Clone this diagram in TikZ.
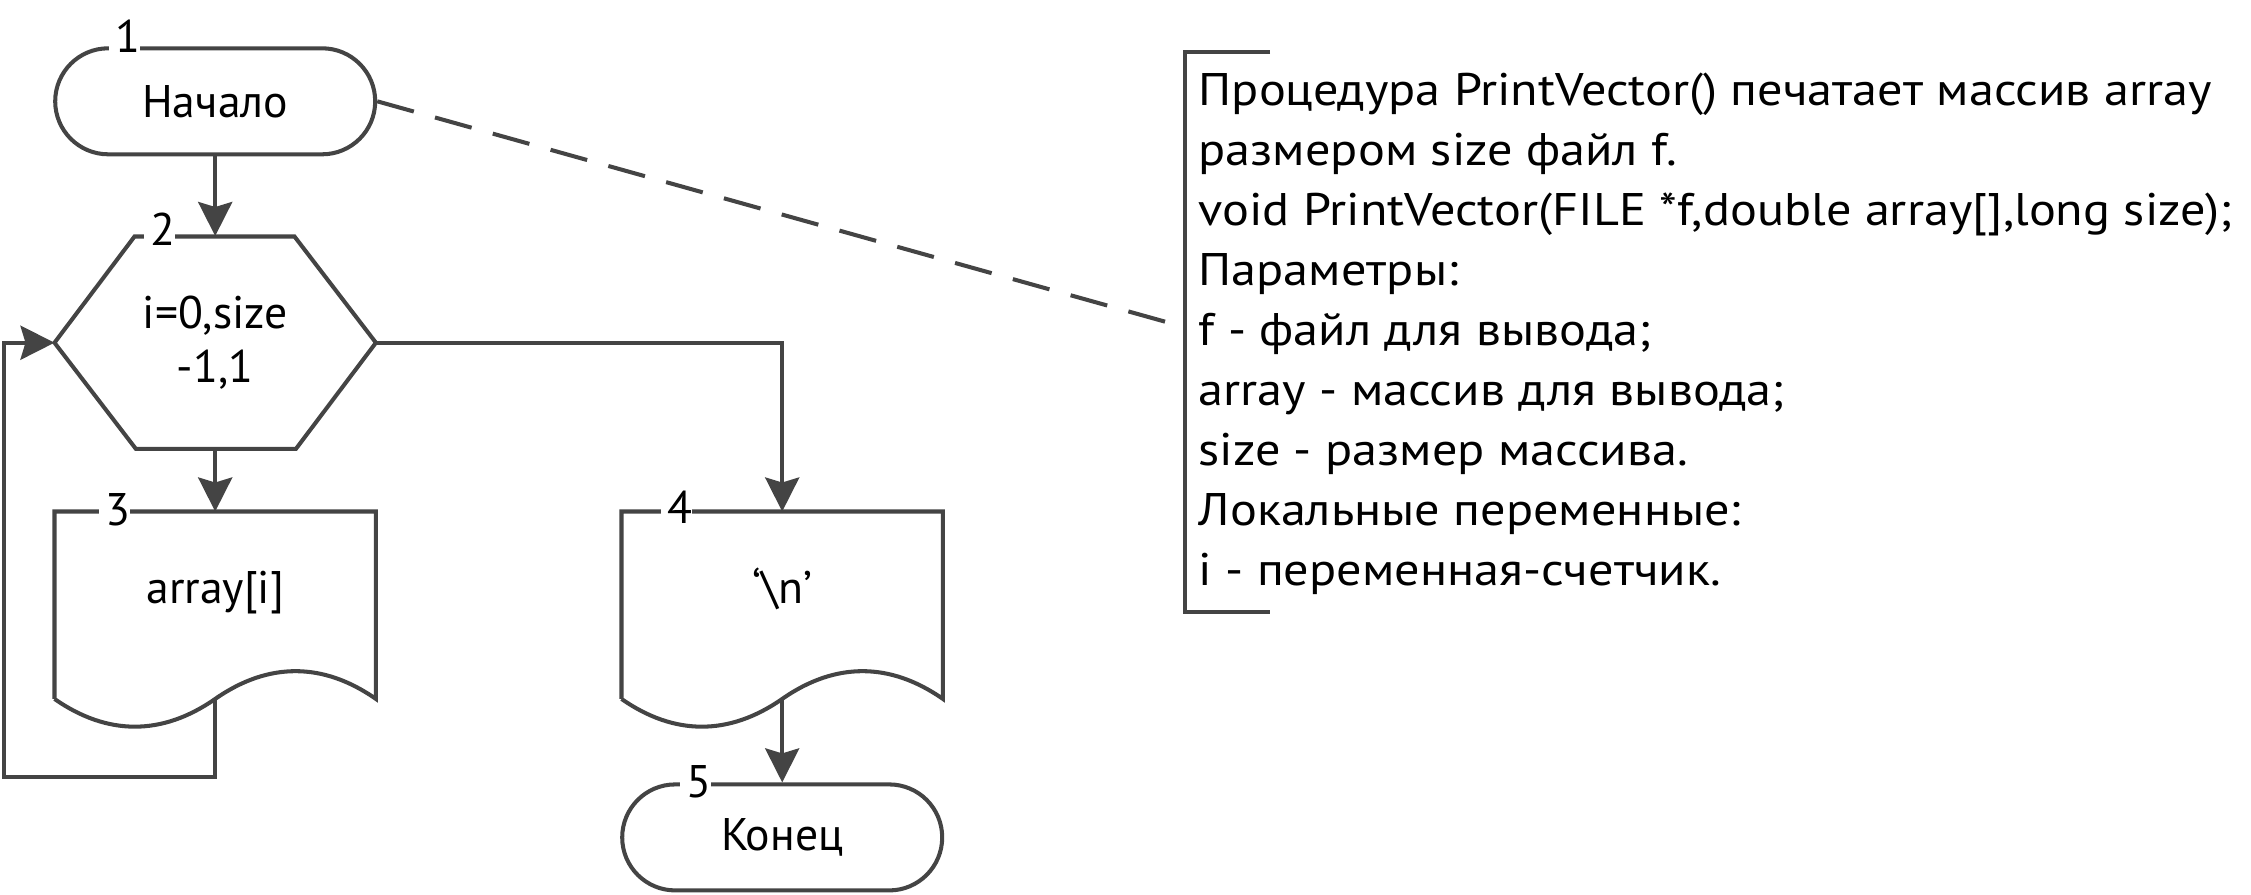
\documentclass[tikz,border=0pt]{standalone}
\usepackage{fontspec}
\setmainfont{PT Sans}
\newfontfamily\notefont[FakeStretch=1.1]{PT Sans}
\usetikzlibrary{arrows.meta,positioning}
\definecolor{linegray}{HTML}{444444}
\tikzset{font={\fontsize{13pt}{15.5pt}\selectfont}}

\begin{document}
\begin{tikzpicture}[
    line/.style={draw=linegray, line width=1.15pt},
    arrow/.style={line, -{Stealth[length=3.4mm, width=3.4mm, inset=0.5mm]}},
    term/.style={line, rectangle, rounded corners=0.53cm, minimum width=3.2cm, minimum height=1.06cm, inner sep=0pt},
    cond/.style={minimum width=3.2cm, minimum height=2.12cm, inner sep=0pt, align=center},
    iobox/.style={minimum width=3.2cm, minimum height=1.86cm, inner sep=0pt, text height=0.3cm, text depth=0.34cm},
    num/.style={fill=white, text width=0.31cm, align=right, inner xsep=0pt, inner ysep=0.13cm, anchor=base east}
  ]
  \useasboundingbox (0,0) rectangle (22.51,-8.94);

  \node (start) [term] at (2.152,-1.013) {Начало};
  \node (loop) [cond] at (2.152,-3.427) {i=0,size\\-1,1};
  \node (out3) [iobox] at (2.152,-6.052) {array[i]};
  \node (out4) [iobox] at (7.822,-6.052) {‘\textbackslash n’};
  \node (stop) [term] at (7.822,-8.374) {Конец};

  \draw[line] (loop.west) -- ++(0.8,1.062) -- ++(1.6,0) -- (loop.east) -- ++(-0.8,-1.062) -- ++(-1.6,0) -- cycle;
  \foreach \n in {out3,out4}
    \draw[line] (\n.south west) -- (\n.north west) -- (\n.north east) -- (\n.south east)
      .. controls +(-0.53,0.37) and +(0.53,0.37) .. (\n.south)
      .. controls +(-0.53,-0.37) and +(0.53,-0.37) .. (\n.south west);

  \coordinate (back) at (0.036,-7.77);
  \coordinate (notept) at (11.77,-3.25);

  \draw[arrow] (start) -- (loop);
  \draw[arrow] (loop) -- (out3);
  \draw[arrow] (out3.south) |- (back) |- (loop.west);
  \draw[arrow] (loop.east) -| (out4.north);
  \draw[arrow] (out4.south) -- (stop.north);
  \draw[line, dash pattern=on 0.38cm off 0.22cm] (start.east) -- (notept);

  \node [num] at (1.41,-0.52) {1};
  \node [num] at (1.757,-2.45) {2};
  \node [num] at (1.31,-5.25) {3};
  \node [num] at (6.93,-5.23) {4};
  \node [num] at (7.12,-7.97) {5};

  % comment
  \draw[line] (12.70,-0.517) -| (11.846,-6.117) -- (12.70,-6.117);
  \node (note) [anchor=base west, align=left, inner sep=0pt, font={\notefont\fontsize{13pt}{17.07pt}\selectfont}] at (11.98,-5.85) {%
    Процедура PrintVector() печатает массив array\\
    размером size файл f.\\
    void PrintVector(FILE *f,double array[],long size);\\
    Параметры:\\
    f - файл для вывода;\\
    array - массив для вывода;\\
    size - размер массива.\\
    Локальные переменные:\\
    i - переменная-счетчик.};
\end{tikzpicture}
\end{document}
